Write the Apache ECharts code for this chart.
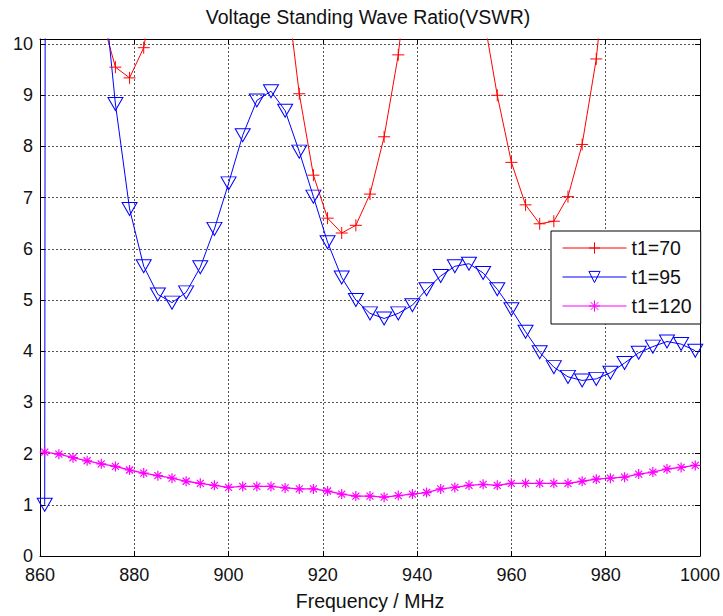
<!DOCTYPE html>
<html><head><meta charset="utf-8">
<script src="https://cdn.jsdelivr.net/npm/echarts@6/dist/echarts.min.js"></script>
<style>html,body{margin:0;padding:0;background:#fff}#c{width:723px;height:616px}</style>
</head><body><div id="c"></div>
<script>
// Frequency samples (MHz)
const freqs = [861,864,867,870,873,876,879,882,885,888,891,894,897,900,903,906,909,912,915,918,921,924,927,930,933,936,939,942,945,948,951,954,957,960,963,966,969,972,975,978,981,984,987,990,993,996,999];
// t1=70 (values above 10.1 are off-chart and clipped)
const vswr70 = [25,18,14,11.8,10.55,9.55,9.34,9.93,11.5,16,22,28,30,27,21,16,13.5,11.3,9.03,7.44,6.60,6.31,6.46,7.07,8.19,9.79,12.3,16,20,18,14,10.6,9.0,7.69,6.86,6.49,6.54,7.02,8.04,9.71,12.4,17,22,26,28,26,22];
// t1=95
const vswr95 = [1.0,300,40,18,11.6,8.83,6.78,5.66,5.11,4.95,5.15,5.64,6.39,7.28,8.22,8.90,9.08,8.70,7.90,7.02,6.13,5.44,5.00,4.74,4.64,4.74,4.90,5.21,5.47,5.66,5.71,5.53,5.21,4.82,4.38,3.98,3.69,3.50,3.43,3.46,3.58,3.77,3.97,4.09,4.19,4.14,4.01];
// t1=120
const vswr120 = [2.03,1.99,1.92,1.86,1.80,1.75,1.68,1.62,1.57,1.52,1.46,1.42,1.38,1.34,1.36,1.36,1.36,1.33,1.31,1.31,1.27,1.21,1.17,1.17,1.15,1.18,1.21,1.24,1.31,1.34,1.38,1.40,1.38,1.42,1.42,1.42,1.42,1.42,1.46,1.50,1.52,1.54,1.60,1.64,1.70,1.73,1.77];
const seriesNames = ['t1=70','t1=95','t1=120'];
const xTicks = [860,880,900,920,940,960,980,1000];
const yTicks = [0,1,2,3,4,5,6,7,8,9,10];

const FONT = '"Liberation Sans", Arial, Helvetica, sans-serif';
const pair = arr => freqs.map((f,i)=>[f,arr[i]]);

const chart = echarts.init(document.getElementById('c'), null, {renderer:'svg'});
const gridLine = {show:true, showMinLine:false, showMaxLine:false, lineStyle:{color:'#555', type:[2,2], width:1}};
const axLine = {show:true, onZero:false, lineStyle:{color:'#000', width:1}};
const axTick = {show:true, inside:true, length:5, lineStyle:{color:'#000', width:1}};
const lbl = {color:'#111', fontSize:18, fontFamily:FONT};

const option = {
  animation:false,
  backgroundColor:'#fff',
  grid:{left:40, right:22, top:39, bottom:58, containLabel:false},
  graphic:[{type:'text', x:368, y:17, style:{text:'Voltage Standing Wave Ratio(VSWR)', fill:'#111', font:'19.5px '+FONT, align:'center', verticalAlign:'middle'}}],
  legend:{
    data:seriesNames, left:551, top:231, orient:'vertical',
    backgroundColor:'#fff', borderColor:'#000', borderWidth:1, borderRadius:0,
    padding:[7,9,8,11], itemGap:9, itemWidth:64, itemHeight:14,
    lineStyle:{width:1}, itemStyle:{borderWidth:1},
    textStyle:{color:'#111', fontSize:19.5, fontFamily:FONT}
  },
  xAxis:[
    {type:'value', position:'bottom', min:xTicks[0], max:xTicks[xTicks.length-1], interval:20,
     axisLine:axLine, axisTick:axTick, axisLabel:Object.assign({margin:10, formatter:v=>String(v)}, lbl), splitLine:gridLine,
     name:'Frequency / MHz', nameLocation:'middle', nameGap:35, nameTextStyle:{color:'#111', fontSize:19.5, fontFamily:FONT}},
    {type:'value', position:'top', min:xTicks[0], max:xTicks[xTicks.length-1], interval:20,
     axisLine:axLine, axisTick:axTick, axisLabel:{show:false}, splitLine:{show:false}}
  ],
  yAxis:[
    {type:'value', position:'left', min:yTicks[0], max:10.1, interval:1,
     axisLine:axLine, axisTick:axTick,
     axisLabel:Object.assign({margin:7, formatter:v=>Math.abs(v-Math.round(v))<1e-6?String(Math.round(v)):''}, lbl),
     splitLine:gridLine},
    {type:'value', position:'right', min:yTicks[0], max:10.1, interval:1,
     axisLine:axLine, axisTick:axTick, axisLabel:{show:false}, splitLine:{show:false}}
  ],
  series:[
    {name:seriesNames[0], type:'line', data:pair(vswr70), clip:true,
     symbol:'path://M5,0L5,10M0,5L10,5', symbolSize:12, showSymbol:true,
     itemStyle:{color:'#ff0000', borderColor:'#ff0000', borderWidth:1},
     lineStyle:{color:'#ff0000', width:1}},
    {name:seriesNames[1], type:'line', data:pair(vswr95), clip:true,
     symbol:'path://M0,0L10,0L5,8.66Z', symbolSize:[15,13], showSymbol:true,
     itemStyle:{color:'rgba(0,0,0,0)', borderColor:'#0000ff', borderWidth:1},
     lineStyle:{color:'#0000ff', width:1}},
    {name:seriesNames[2], type:'line', data:pair(vswr120), clip:true,
     symbol:'path://M5,0L5,10M0,5L10,5M1.5,1.5L8.5,8.5M8.5,1.5L1.5,8.5', symbolSize:10, showSymbol:true,
     itemStyle:{color:'#ff00ff', borderColor:'#ff00ff', borderWidth:1.2},
     lineStyle:{color:'#ff00ff', width:1.3}}
  ]
};
chart.setOption(option);
</script></body></html>
